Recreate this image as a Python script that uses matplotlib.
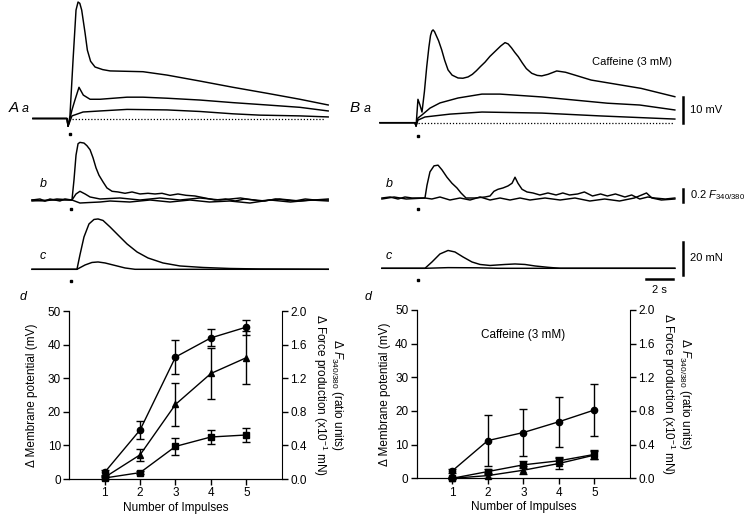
import numpy as np
import matplotlib
matplotlib.use("Agg")
import matplotlib.pyplot as plt

plt.rcParams['font.family'] = ['Liberation Sans', 'DejaVu Sans']
plt.rcParams['mathtext.fontset'] = 'custom'
plt.rcParams['mathtext.rm'] = 'Liberation Sans'
plt.rcParams['mathtext.it'] = 'Liberation Sans:italic'

W, H = 750, 519
PX_PER_S = 13.5

# ── traces: time (s from stimulus) and amplitude ─────────────────────────────
# A a, membrane potential (mV)
aa1_t = [-2.67, -0.15, -0.07, 0.07, 0.30, 0.52, 0.67, 0.80, 0.94, 1.19, 1.36, 1.60, 1.93, 2.5, 3.04, 5.48, 7.26, 9.70, 12.15, 14.67, 17.1, 19.2]
aa1_v = [0, 0, -3.0, 1.0, 22.5, 41.7, 44.8, 44.3, 41.7, 32.9, 26.3, 22.0, 19.8, 18.8, 18.3, 18.0, 16.7, 14.4, 12.0, 9.7, 7.4, 5.2]
aa2_t = [-2.67, -0.15, -0.07, 0.22, 0.44, 0.74, 1.06, 1.56, 2.30, 4.30, 5.48, 7.26, 9.70, 12.15, 14.67, 17.1, 19.2]
aa2_v = [0, 0, -3.0, 3.3, 7.1, 12.0, 9.0, 7.4, 7.4, 8.2, 8.2, 7.8, 7.1, 6.1, 5.2, 4.3, 2.9]
aa3_t = [-2.67, -0.15, -0.07, 0.22, 1.04, 2.30, 4.30, 7.26, 9.70, 12.15, 14.1, 17.1, 19.2]
aa3_v = [0, 0, -3.0, 1.0, 2.5, 2.9, 3.5, 3.3, 2.7, 1.8, 1.3, 1.0, 0.6]

# B a, membrane potential (mV), caffeine
ba1_t = [-2.74, -0.15, -0.07, 0.07, 0.22, 0.37, 0.55, 0.72, 0.88, 1.0, 1.1, 1.19, 1.3, 1.41, 1.6, 1.83, 2.05, 2.3, 2.6, 3.04, 3.4, 3.78, 4.1, 4.4, 4.7, 5.04, 5.4, 5.8, 6.2, 6.52, 6.75, 7.0, 7.25, 7.5, 7.8, 8.1, 8.5, 8.9, 9.24, 9.7, 10.35, 11.0, 11.7, 12.9, 16.6, 19.1]
ba1_v = [0, 0, -1.3, 9.0, 6.8, 4.1, 12.0, 21.5, 29.0, 33.5, 35.2, 35.7, 35.0, 33.7, 31.5, 28.0, 24.0, 20.3, 18.3, 17.2, 17.1, 17.6, 18.6, 20.0, 21.6, 23.3, 25.5, 27.5, 29.5, 30.8, 30.3, 28.8, 27.0, 25.4, 23.0, 20.8, 19.0, 18.2, 18.0, 18.6, 19.9, 19.4, 18.3, 16.4, 13.2, 10.0]
ba2_t = [-2.74, -0.15, -0.07, 0.07, 0.37, 0.96, 1.7, 3.04, 4.81, 6.15, 9.26, 14.1, 16.5, 19.1]
ba2_v = [0, 0, -1.3, 1.8, 3.0, 5.6, 7.6, 9.5, 11.0, 11.0, 9.9, 7.5, 6.8, 4.9]
ba3_t = [-2.74, -0.15, -0.07, 0.07, 0.59, 2.44, 4.81, 9.26, 13.6, 19.1]
ba3_v = [0, 0, -1.3, 1.0, 2.2, 3.3, 4.1, 3.7, 2.6, 1.4]

# A b, F340/380 (ratio units)
ab1_t = [-2.74, -2.15, -1.78, -1.41, -1.04, -0.67, -0.30, 0.22, 0.37, 0.52, 0.67, 0.81, 1.11, 1.33, 1.56, 1.78, 2.0, 2.22, 2.52, 2.81, 3.19, 3.63, 4.15, 4.67, 5.26, 5.85, 6.37, 6.89, 7.48, 8.07, 8.67, 9.33, 10.07, 10.8, 11.6, 12.3, 13.0, 13.8, 14.5, 15.3, 16.0, 16.7, 17.5, 18.2, 19.2]
ab1_v = [0, 0.015, -0.015, 0.015, 0, -0.015, 0.015, 0, 0.30, 0.67, 0.84, 0.86, 0.85, 0.81, 0.75, 0.63, 0.48, 0.37, 0.27, 0.18, 0.13, 0.12, 0.10, 0.12, 0.09, 0.10, 0.09, 0.10, 0.07, 0.09, 0.07, 0.06, 0.03, 0, 0.015, -0.015, 0.015, 0, -0.015, 0.015, 0, -0.015, 0.015, 0, 0]
ab2_t = [-2.74, -1.41, 0.22, 0.52, 0.81, 1.19, 1.56, 2.3, 3.78, 5.26, 6.74, 8.22, 9.7, 11.2, 12.7, 14.1, 15.6, 17.1, 19.2]
ab2_v = [-0.015, 0, 0, 0.09, 0.13, 0.09, 0.045, 0.015, 0.03, 0, 0.03, 0, 0.03, 0, 0.03, -0.015, 0.015, -0.015, 0.015]
ab3_t = [-2.74, -1.8, -0.9, 0.22, 0.81, 1.56, 2.3, 3.04, 4.5, 6.0, 7.48, 8.96, 10.4, 11.9, 13.4, 14.9, 16.4, 17.9, 19.2]
ab3_v = [0, -0.015, 0.015, 0, -0.045, -0.037, -0.03, -0.015, -0.03, 0, -0.03, 0, -0.03, -0.015, -0.045, 0, -0.03, 0, -0.015]

# B b, F340/380 (ratio units), caffeine
bb1_t = [-2.6, -2.0, -1.41, -0.89, -0.37, 0.59, 0.74, 0.96, 1.26, 1.56, 1.85, 2.22, 2.59, 2.96, 3.26, 3.63, 4.3, 5.04, 5.41, 5.70, 6.0, 6.37, 6.74, 7.04, 7.26, 7.48, 7.78, 8.15, 8.59, 9.1, 9.7, 10.3, 10.8, 11.3, 11.9, 12.4, 13.0, 13.6, 14.1, 14.7, 15.4, 15.9, 16.5, 17.1, 17.6, 18.4, 19.1]
bb1_v = [0, 0.015, -0.015, 0.015, 0, 0, 0.19, 0.39, 0.48, 0.49, 0.42, 0.31, 0.22, 0.15, 0.075, 0, 0, 0.015, 0.03, 0.10, 0.13, 0.15, 0.18, 0.22, 0.31, 0.22, 0.13, 0.09, 0.075, 0.045, 0.075, 0.045, 0.075, 0.045, 0.06, 0.09, 0.03, 0.06, 0.03, 0.06, 0.015, 0.045, -0.015, 0.015, 0, -0.015, 0]
bb2_t = [-2.6, -1.7, -0.8, 0.59, 1.1, 1.7, 2.44, 3.19, 3.93, 4.67, 5.41, 6.15, 6.89, 7.63, 8.37, 9.48, 10.6, 11.7, 12.8, 13.9, 15.0, 16.1, 17.0, 17.4, 18.1, 19.1]
bb2_v = [-0.015, 0.015, -0.015, 0, -0.015, 0.015, -0.03, 0, -0.03, 0.015, -0.03, 0, -0.03, 0, -0.03, 0, -0.03, 0, -0.045, -0.015, -0.045, 0, 0.075, 0, -0.03, -0.015]

# A c, force (mN)
ac1_t = [-2.74, 0.59, 0.81, 1.11, 1.48, 1.85, 2.15, 2.52, 3.04, 3.63, 4.30, 5.04, 5.85, 6.96, 8.22, 9.93, 11.9, 14.1, 19.2]
ac1_v = [0, 0, 8.6, 19.4, 27.2, 29.9, 30.2, 29.3, 25.4, 20.6, 15.2, 10.4, 6.8, 3.8, 2.0, 1.1, 0.5, 0.2, 0]
ac2_t = [-2.74, 0.59, 1.19, 1.70, 2.15, 2.67, 3.41, 4.15, 4.89, 19.2]
ac2_v = [0, 0, 2.6, 4.1, 4.4, 3.8, 2.3, 0.8, 0, 0]

# B c, force (mN), caffeine
bc1_t = [-2.6, 0.59, 1.11, 1.70, 2.30, 2.81, 3.41, 4.07, 4.67, 5.41, 6.52, 7.26, 8.0, 8.74, 9.7, 10.6, 19.1]
bc1_v = [0, 0, 3.8, 8.6, 10.7, 9.8, 6.8, 3.8, 2.3, 1.7, 2.3, 2.6, 2.3, 1.4, 0.6, 0, 0]
bc2_t = [-2.6, 0.59, 2.3, 4.5, 6.0, 19.1]
bc2_v = [0, 0, 0.4, 0.3, 0, 0]

# ── d: summary vs number of impulses ─────────────────────────────────────────
impulses = [1, 2, 3, 4, 5]
A_circ = [2.0, 14.6, 36.3, 42.0, 45.2]
A_circ_err = [0.8, 2.7, 5.0, 2.5, 2.2]
A_tri = [0.5, 7.2, 22.2, 31.4, 36.1]
A_tri_err = [0.5, 1.8, 6.4, 7.6, 7.8]
A_sq = [0.3, 1.9, 9.7, 12.5, 13.1]
A_sq_err = [0.3, 0.4, 2.5, 2.2, 2.0]

B_circ = [2.2, 11.2, 13.6, 16.8, 20.3]
B_circ_err = [0.5, 7.5, 7.1, 7.5, 7.6]
B_sq = [0.0, 2.0, 4.0, 5.2, 7.1]
B_sq_err = [0.3, 0.8, 1.0, 1.0, 1.3]
B_tri = [0.0, 0.8, 2.4, 4.4, 6.9]
B_tri_err = [0.3, 0.8, 1.2, 1.5, 1.3]

left_ticks = [0, 10, 20, 30, 40, 50]
right_ticks = [0.0, 0.4, 0.8, 1.2, 1.6, 2.0]

fig = plt.figure(figsize=(7.5, 5.19), dpi=100)


def fx(x):
    return x / W


def fy(y):
    return 1 - y / H


def trace_axes(stim_px, base_px, px_per_unit):
    ax = fig.add_axes([0, 0, 1, 1])
    ax.set_xlim(-stim_px / PX_PER_S, (W - stim_px) / PX_PER_S)
    ax.set_ylim((base_px - H) / px_per_unit, base_px / px_per_unit)
    ax.axis('off')
    ax.patch.set_alpha(0)
    return ax


LW = 1.05
tr = dict(color='k', lw=LW, clip_on=False, solid_joinstyle='round')
dot = dict(marker='s', ms=1.6, color='k', ls='none', clip_on=False)

# row a
ax = trace_axes(69, 118.5, 2.6)
for t, v in [(aa1_t, aa1_v), (aa2_t, aa2_v), (aa3_t, aa3_v)]:
    ax.plot(t, v, **tr)
ax.plot([0.22, 19.0], [-0.3, -0.3], color='k', lw=0.9, ls=(0, (1, 1.5)))
ax.plot([0.1], [-6.1], **dot)

ax = trace_axes(417, 122.7, 2.6)
for t, v in [(ba1_t, ba1_v), (ba2_t, ba2_v), (ba3_t, ba3_v)]:
    ax.plot(t, v, **tr)
ax.plot([0.07, 19.0], [-0.2, -0.2], color='k', lw=0.9, ls=(0, (1, 1.5)))
ax.plot([0.1], [-5.0], **dot)
ax.plot([19.7, 19.7], [-0.1, 9.9], color='k', lw=1.8)
ax.text(20.2, 4.8, '10 mV', fontsize=8, va='center', ha='left')
ax.text(13.0, 23.5, 'Caffeine (3 mM)', fontsize=8, va='center', ha='left')

# row b
ax = trace_axes(69, 200, 67)
for t, v in [(ab1_t, ab1_v), (ab2_t, ab2_v), (ab3_t, ab3_v)]:
    ax.plot(t, v, **tr)
ax.plot([0.15], [-0.13], **dot)

ax = trace_axes(417, 198, 67)
for t, v in [(bb1_t, bb1_v), (bb2_t, bb2_v)]:
    ax.plot(t, v, **tr)
ax.plot([0.1], [-0.17], **dot)
ax.plot([19.7, 19.7], [-0.06, 0.14], color='k', lw=1.8)
ax.text(20.2, 0.04, '0.2 $F_{340/380}$', fontsize=8, va='center', ha='left')

# row c
ax = trace_axes(69, 269.3, 1.667)
for t, v in [(ac1_t, ac1_v), (ac2_t, ac2_v)]:
    ax.plot(t, v, **tr)
ax.plot([0.15], [-7.0], **dot)

ax = trace_axes(417, 268.3, 1.667)
for t, v in [(bc1_t, bc1_v), (bc2_t, bc2_v)]:
    ax.plot(t, v, **tr)
ax.plot([0.1], [-7.2], **dot)
ax.plot([19.7, 19.7], [-4.0, 16.0], color='k', lw=1.8)
ax.text(20.2, 6.0, '20 mN', fontsize=8, va='center', ha='left')
ax.plot([16.96, 18.96], [-6.4, -6.4], color='k', lw=1.8)
ax.text(17.96, -13.2, '2 s', fontsize=8, va='center', ha='center')

# panel letters
it = dict(style='italic', va='center', ha='left')
fig.text(fx(9), fy(108), 'A', fontsize=11, **it)
fig.text(fx(22), fy(109), 'a', fontsize=9, **it)
fig.text(fx(350), fy(108), 'B', fontsize=11, **it)
fig.text(fx(364), fy(109), 'a', fontsize=9, **it)
fig.text(fx(40), fy(184), 'b', fontsize=9, **it)
fig.text(fx(386), fy(184), 'b', fontsize=9, **it)
fig.text(fx(40), fy(256), 'c', fontsize=9, **it)
fig.text(fx(386), fy(256), 'c', fontsize=9, **it)
fig.text(fx(20), fy(297), 'd', fontsize=9, **it)
fig.text(fx(365), fy(297), 'd', fontsize=9, **it)

# d panels
right_label = 'Δ $F_{340/380}$ (ratio units)\nΔ Force production (x10$^{-1}$ mN)'


def summary(l_px, r_px, top_px, bot_px, series, ylab_off, caption=None):
    ax = fig.add_axes([fx(l_px), fy(bot_px), (r_px - l_px) / W, (bot_px - top_px) / H])
    for y, e, m in series:
        ax.errorbar(impulses, y, yerr=e, fmt='-', marker=m, color='k', ms=4.5,
                    lw=1.0, elinewidth=1.0, capsize=3, capthick=1.0, clip_on=False)
    ax.set_xlim(0, 6)
    ax.set_ylim(0, 50)
    ax.set_xticks(impulses)
    ax.set_yticks(left_ticks)
    ax.spines['top'].set_visible(False)
    ax.spines['right'].set_visible(False)
    ax.tick_params(direction='out', length=4, width=1, labelsize=8.5, pad=2)
    ax.set_xlabel('Number of Impulses', fontsize=8.5, labelpad=2)
    w = r_px - l_px
    ax.text(ylab_off / w, 0.5, 'Δ Membrane potential (mV)', transform=ax.transAxes,
            rotation=90, ha='center', va='center', fontsize=8.5)
    ax.text(1 + 46 / w, 0.5, right_label, transform=ax.transAxes,
            rotation=270, ha='center', va='center', fontsize=8.5, linespacing=1.0)
    ax2 = ax.twinx()
    ax2.set_ylim(0, 2.0)
    ax2.set_yticks(right_ticks)
    ax2.set_yticklabels([f'{v:.1f}' for v in right_ticks])
    ax2.spines['top'].set_visible(False)
    ax2.tick_params(direction='out', length=4, width=1, labelsize=8.5, pad=2)
    if caption:
        ax.text(3.0, 42.5, caption, ha='center', va='center', fontsize=8.5)
    return ax


summary(69.3, 281.7, 311, 479,
        [(A_circ, A_circ_err, 'o'), (A_tri, A_tri_err, '^'), (A_sq, A_sq_err, 's')], -37)
summary(416.7, 630, 310, 478.3,
        [(B_circ, B_circ_err, 'o'), (B_tri, B_tri_err, '^'), (B_sq, B_sq_err, 's')], -32,
        caption='Caffeine (3 mM)')

fig.savefig('out.png', dpi=100)
